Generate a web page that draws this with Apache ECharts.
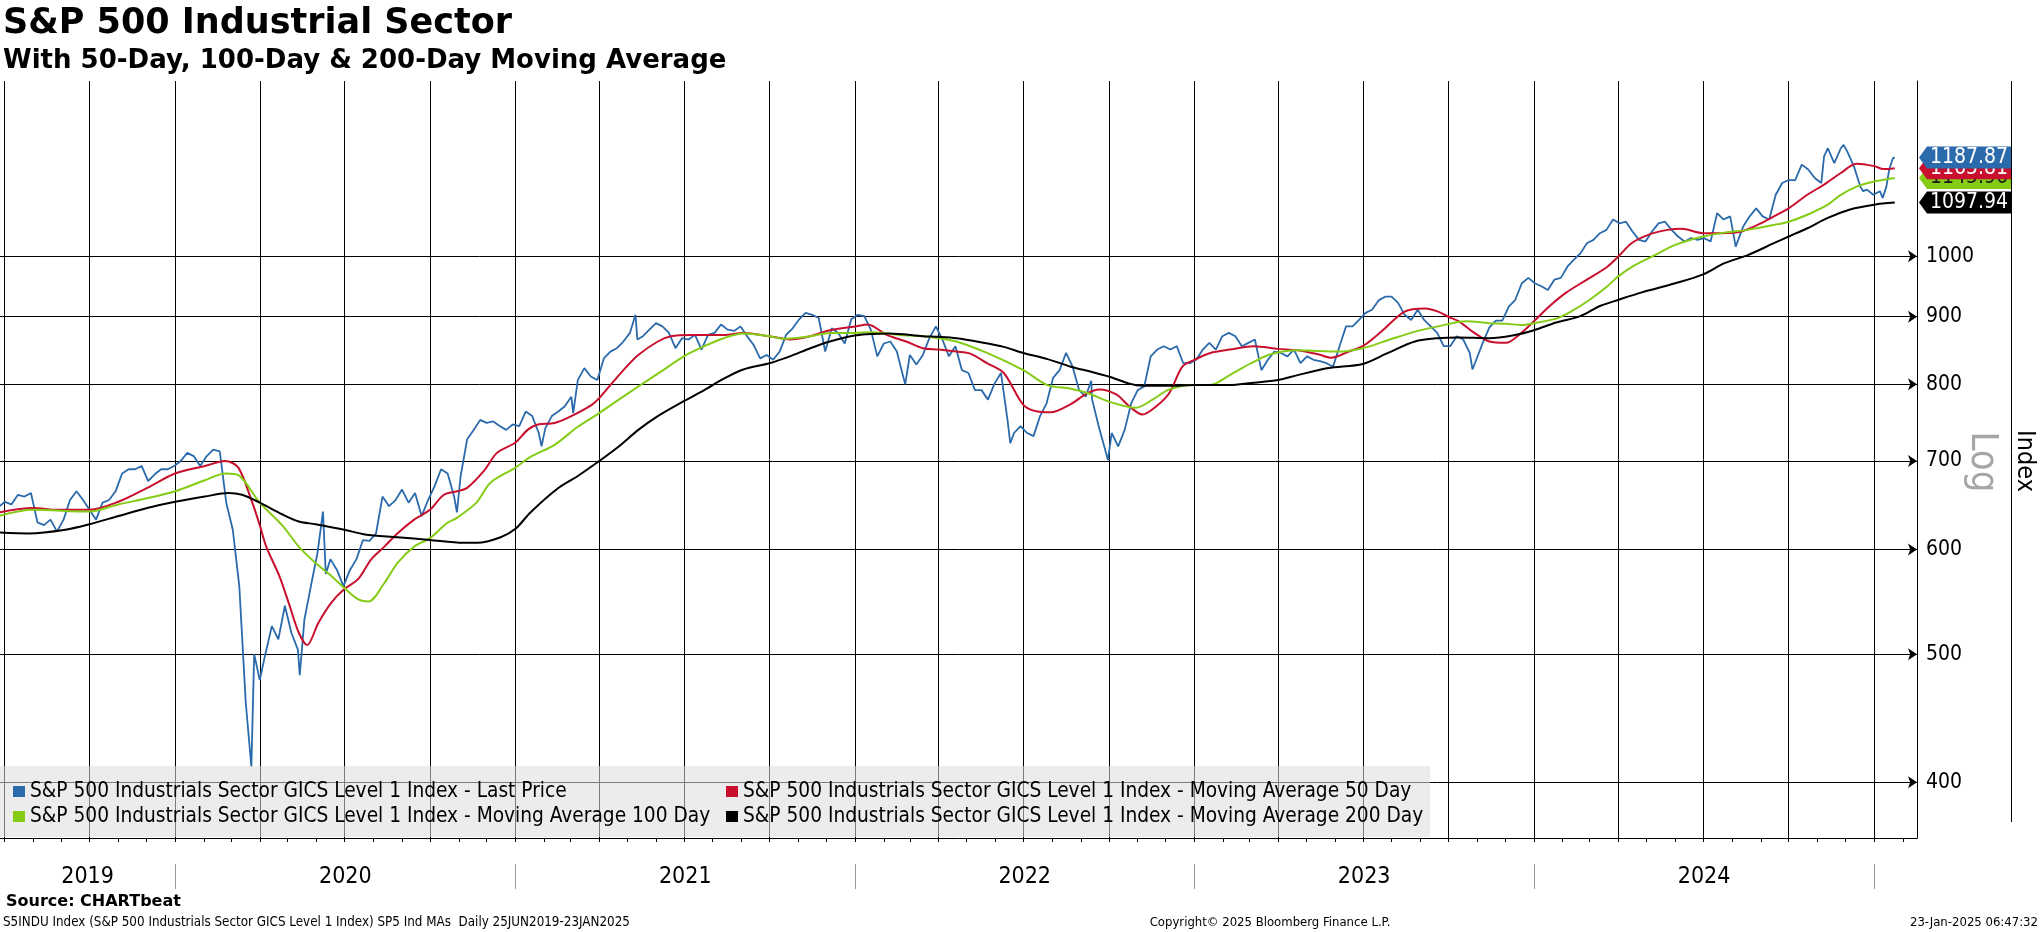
<!DOCTYPE html>
<html><head><meta charset="utf-8">
<script src="https://cdn.jsdelivr.net/npm/echarts@6/dist/echarts.min.js"></script>
<style>html,body{margin:0;padding:0;background:#fff}#c{width:2041px;height:932px}</style>
</head><body><div id="c"></div>
<script>
// ---------- DATA ----------
const priceDates = ['2019-06-25','2019-07-02','2019-07-09','2019-07-16','2019-07-23','2019-07-30','2019-08-06','2019-08-13','2019-08-20','2019-08-27','2019-09-03','2019-09-10','2019-09-17','2019-09-24','2019-10-01','2019-10-08','2019-10-15','2019-10-22','2019-10-29','2019-11-05','2019-11-12','2019-11-19','2019-11-26','2019-12-03','2019-12-10','2019-12-17','2019-12-24','2019-12-31',
'2020-01-07','2020-01-14','2020-01-21','2020-01-28','2020-02-04','2020-02-11','2020-02-18','2020-02-25','2020-03-03','2020-03-10','2020-03-17','2020-03-23','2020-03-26','2020-04-01','2020-04-07','2020-04-14','2020-04-21','2020-04-28','2020-05-05','2020-05-12','2020-05-14','2020-05-19','2020-05-26','2020-06-02','2020-06-08','2020-06-11','2020-06-16','2020-06-23','2020-06-30','2020-07-07','2020-07-14','2020-07-21','2020-07-28','2020-08-04','2020-08-11','2020-08-18','2020-08-25','2020-09-01','2020-09-08','2020-09-15','2020-09-22','2020-09-29','2020-10-06','2020-10-13','2020-10-20','2020-10-27','2020-10-30','2020-11-03','2020-11-10','2020-11-17','2020-11-24','2020-12-01','2020-12-08','2020-12-15','2020-12-22','2020-12-29',
'2021-01-05','2021-01-12','2021-01-19','2021-01-26','2021-01-29','2021-02-02','2021-02-09','2021-02-16','2021-02-23','2021-03-02','2021-03-04','2021-03-09','2021-03-16','2021-03-23','2021-03-30','2021-04-06','2021-04-13','2021-04-20','2021-04-27','2021-05-04','2021-05-10','2021-05-12','2021-05-18','2021-05-25','2021-06-01','2021-06-08','2021-06-15','2021-06-22','2021-06-29','2021-07-06','2021-07-13','2021-07-20','2021-07-27','2021-08-03','2021-08-10','2021-08-17','2021-08-24','2021-08-31','2021-09-07','2021-09-14','2021-09-21','2021-09-28','2021-10-05','2021-10-12','2021-10-19','2021-10-26','2021-11-02','2021-11-09','2021-11-16','2021-11-23','2021-11-30','2021-12-07','2021-12-14','2021-12-21','2021-12-28',
'2022-01-04','2022-01-11','2022-01-18','2022-01-25','2022-02-01','2022-02-08','2022-02-15','2022-02-24','2022-03-01','2022-03-08','2022-03-15','2022-03-22','2022-03-29','2022-04-05','2022-04-12','2022-04-19','2022-04-26','2022-05-03','2022-05-10','2022-05-17','2022-05-24','2022-05-31','2022-06-07','2022-06-14','2022-06-17','2022-06-21','2022-06-28','2022-07-05','2022-07-12','2022-07-19','2022-07-26','2022-08-02','2022-08-09','2022-08-16','2022-08-23','2022-08-30','2022-09-06','2022-09-12','2022-09-13','2022-09-20','2022-09-27','2022-09-30','2022-10-04','2022-10-11','2022-10-18','2022-10-25','2022-11-01','2022-11-08','2022-11-15','2022-11-22','2022-11-29','2022-12-06','2022-12-13','2022-12-20','2022-12-27',
'2023-01-03','2023-01-10','2023-01-17','2023-01-24','2023-01-31','2023-02-07','2023-02-14','2023-02-21','2023-02-28','2023-03-07','2023-03-14','2023-03-21','2023-03-28','2023-04-04','2023-04-11','2023-04-18','2023-04-25','2023-05-02','2023-05-09','2023-05-16','2023-05-23','2023-05-30','2023-06-06','2023-06-13','2023-06-20','2023-06-27','2023-07-04','2023-07-11','2023-07-18','2023-07-25','2023-08-01','2023-08-08','2023-08-15','2023-08-22','2023-08-29','2023-09-05','2023-09-12','2023-09-19','2023-09-26','2023-10-03','2023-10-10','2023-10-17','2023-10-24','2023-10-27','2023-10-31','2023-11-07','2023-11-14','2023-11-21','2023-11-28','2023-12-05','2023-12-12','2023-12-19','2023-12-26',
'2024-01-02','2024-01-09','2024-01-16','2024-01-23','2024-01-30','2024-02-06','2024-02-13','2024-02-20','2024-02-27','2024-03-05','2024-03-12','2024-03-19','2024-03-26','2024-04-02','2024-04-09','2024-04-16','2024-04-23','2024-04-30','2024-05-07','2024-05-14','2024-05-21','2024-05-28','2024-06-04','2024-06-11','2024-06-18','2024-06-25','2024-07-02','2024-07-09','2024-07-16','2024-07-23','2024-07-30','2024-08-05','2024-08-13','2024-08-20','2024-08-27','2024-09-03','2024-09-10','2024-09-17','2024-09-24','2024-10-01','2024-10-08','2024-10-15','2024-10-22','2024-10-29','2024-11-05','2024-11-08','2024-11-12','2024-11-19','2024-11-26','2024-11-29','2024-12-03','2024-12-10','2024-12-17','2024-12-20','2024-12-24','2024-12-31',
'2025-01-07','2025-01-10','2025-01-14','2025-01-17','2025-01-21','2025-01-23'];
const priceValues = [646,652,649,660,658,662,629,626,632,619,632,654,664,654,643,632,651,654,664,685,690,690,694,676,684,690,690,694,
700,710,706,694,706,714,712,651,621,563,459,411,500,478,500,525,513,544,519,504,482,531,563,596,641,575,590,579,563,579,590,610,609,617,658,647,654,666,651,662,636,654,670,690,685,658,640,682,727,739,752,748,750,744,739,746,
744,763,757,735,718,741,757,763,770,783,761,806,823,811,806,837,847,852,862,875,903,865,870,880,890,885,875,852,867,865,872,850,872,875,888,880,878,885,870,857,837,842,835,847,872,882,896,906,903,898,847,882,875,859,896,
903,901,880,840,859,862,847,800,842,828,842,867,885,865,840,855,820,816,792,792,779,801,816,752,722,735,744,735,731,757,774,809,820,845,825,792,783,805,779,744,714,701,735,718,739,774,792,797,840,850,855,850,855,830,830,
835,850,860,850,870,875,870,855,860,865,820,835,847,845,840,850,830,840,835,833,830,825,855,885,885,895,906,911,926,932,932,922,903,895,911,895,885,875,855,855,870,865,845,821,835,860,883,894,894,916,927,954,963,
954,949,943,960,963,982,994,1005,1023,1029,1041,1047,1066,1059,1062,1044,1029,1026,1044,1059,1062,1047,1035,1026,1032,1029,1032,1026,1078,1066,1072,1017,1053,1072,1087,1072,1066,1113,1136,1142,1142,1173,1163,1146,1136,1190,1207,1176,1207,1214,1200,1170,1129,1120,1123,1113,
1120,1107,1129,1163,1186,1187.87];

const ma50Dates = ['2019-06-25','2019-08-01','2019-08-29','2019-10-01','2019-11-01','2019-12-02','2020-01-01','2020-02-02','2020-02-24','2020-03-09','2020-03-24','2020-04-01','2020-04-08','2020-04-22','2020-05-02','2020-05-13','2020-05-22','2020-06-03','2020-06-17','2020-07-01','2020-07-16','2020-07-30','2020-08-13','2020-08-27','2020-09-14','2020-10-01','2020-10-16','2020-10-30','2020-11-10','2020-11-28','2020-12-12','2021-01-01','2021-01-14','2021-01-25','2021-02-12','2021-03-02','2021-03-24','2021-04-01','2021-04-15','2021-04-29','2021-05-13','2021-06-03','2021-06-17','2021-07-09','2021-08-13','2021-09-03','2021-10-01','2021-10-23','2021-11-14','2021-12-05','2022-01-01','2022-01-15','2022-02-04','2022-02-25','2022-03-15','2022-04-01','2022-04-20','2022-05-05','2022-05-23','2022-06-10','2022-07-01','2022-07-16','2022-07-30','2022-08-21','2022-09-08','2022-09-21','2022-10-09','2022-10-23','2022-11-06','2022-11-21','2022-12-05','2022-12-19','2023-01-01','2023-01-18','2023-02-08','2023-03-06','2023-04-01','2023-04-22','2023-05-14','2023-05-28','2023-06-16','2023-07-01','2023-07-21','2023-08-15','2023-09-06','2023-09-20','2023-10-01','2023-10-12','2023-10-27','2023-11-14','2023-12-02','2023-12-16','2024-01-01','2024-01-18','2024-02-05','2024-02-27','2024-03-20','2024-04-01','2024-04-15','2024-05-03','2024-05-24','2024-06-08','2024-07-01','2024-07-21','2024-08-11','2024-09-01','2024-09-15','2024-10-01','2024-10-21','2024-11-08','2024-11-26','2024-12-13','2025-01-01','2025-01-11','2025-01-23'];
const ma50Values = [640,645,643,643,652,668,685,694,700,692,651,626,603,573,547,519,508,528,547,560,570,590,603,617,632,643,660,664,668,688,710,723,739,746,748,757,772,781,802,823,842,862,870,872,872,875,870,865,870,879,885,888,872,862,852,850,847,844,830,816,772,763,762,773,788,793,786,770,759,770,788,825,835,845,850,855,851,849,843,838,847,855,877,908,913,908,900,893,877,862,860,872,893,917,939,960,982,1000,1023,1038,1047,1049,1041,1041,1044,1059,1072,1087,1113,1133,1156,1175,1170,1164,1165.81];

const ma100Dates = ['2019-06-25','2019-08-01','2019-10-01','2019-11-01','2019-12-02','2020-01-01','2020-02-02','2020-02-24','2020-03-09','2020-04-01','2020-04-25','2020-05-13','2020-05-31','2020-06-17','2020-07-01','2020-07-16','2020-07-27','2020-08-13','2020-08-27','2020-09-14','2020-10-01','2020-10-19','2020-10-30','2020-11-20','2020-12-05','2021-01-01','2021-01-17','2021-02-12','2021-03-09','2021-04-01','2021-04-22','2021-05-13','2021-06-03','2021-07-01','2021-07-23','2021-08-13','2021-09-03','2021-10-01','2021-10-16','2021-11-14','2021-12-05','2022-01-01','2022-01-20','2022-02-18','2022-03-15','2022-04-01','2022-04-20','2022-05-23','2022-07-01','2022-07-27','2022-08-21','2022-09-08','2022-10-02','2022-10-30','2022-11-17','2022-12-05','2023-01-01','2023-01-18','2023-02-08','2023-03-03','2023-03-24','2023-04-22','2023-06-05','2023-07-01','2023-07-28','2023-08-26','2023-09-20','2023-10-20','2023-11-14','2023-12-02','2023-12-20','2024-01-01','2024-01-25','2024-02-12','2024-03-01','2024-03-20','2024-04-01','2024-04-19','2024-05-10','2024-06-01','2024-07-01','2024-07-24','2024-08-18','2024-09-15','2024-10-01','2024-10-21','2024-11-12','2024-11-26','2024-12-13','2025-01-01','2025-01-23'];
const ma100Values = [636,643,641,649,656,664,677,685,683,651,626,603,586,573,561,550,548,566,586,603,612,628,634,651,674,692,705,720,743,761,779,797,815,840,855,867,874,870,866,870,875,875,876,872,870,867,862,845,820,799,794,788,776,768,779,793,799,799,813,830,843,849,847,852,864,877,885,893,890,889,887,890,897,910,927,949,966,985,1002,1020,1035,1042,1047,1056,1062,1075,1094,1113,1129,1139,1145.96];

const ma200Dates = ['2019-06-25','2019-07-28','2019-09-05','2019-10-01','2019-11-01','2019-12-02','2020-01-01','2020-02-02','2020-02-27','2020-03-13','2020-04-01','2020-04-25','2020-05-13','2020-05-31','2020-07-01','2020-07-23','2020-08-27','2020-10-01','2020-11-06','2020-11-21','2020-12-16','2021-01-01','2021-01-17','2021-02-15','2021-03-09','2021-04-01','2021-04-22','2021-05-13','2021-06-03','2021-07-01','2021-07-23','2021-08-13','2021-09-03','2021-10-01','2021-10-23','2021-11-14','2021-12-05','2022-01-01','2022-02-07','2022-03-15','2022-04-01','2022-04-20','2022-05-16','2022-06-10','2022-07-01','2022-07-27','2022-08-21','2022-09-11','2022-10-01','2022-10-23','2022-11-06','2022-12-05','2023-01-01','2023-02-08','2023-03-03','2023-04-01','2023-04-22','2023-05-25','2023-07-01','2023-07-28','2023-08-26','2023-09-20','2023-10-12','2023-11-14','2023-12-09','2024-01-01','2024-01-25','2024-02-20','2024-03-12','2024-04-01','2024-04-26','2024-06-01','2024-07-01','2024-07-24','2024-08-18','2024-09-15','2024-10-01','2024-10-21','2024-11-12','2024-12-06','2025-01-01','2025-01-23'];
const ma200Values = [618,617,621,627,636,645,652,658,662,660,651,638,630,627,621,616,613,610,607,607,613,622,640,667,682,700,718,739,757,777,792,808,821,830,840,852,862,871,874,870,869,867,861,854,845,836,825,818,811,801,798,798,799,799,802,806,813,823,829,845,862,867,868,867,871,879,891,901,917,927,939,954,969,988,1002,1023,1035,1050,1069,1085,1094,1097.94];

const yTickValues = [400, 500, 600, 700, 800, 900, 1000];
const yearLabels = ['2019', '2020', '2021', '2022', '2023', '2024'];
const seriesNames = [
  'S&P 500 Industrials Sector GICS Level 1 Index - Last Price',
  'S&P 500 Industrials Sector GICS Level 1 Index - Moving Average 50 Day',
  'S&P 500 Industrials Sector GICS Level 1 Index - Moving Average 100 Day',
  'S&P 500 Industrials Sector GICS Level 1 Index - Moving Average 200 Day'
];

// ---------- CHART ----------
const FONT = "'DejaVu Sans Condensed', 'DejaVu Sans', sans-serif";
const BOLD = "'DejaVu Sans', sans-serif";
const C_BLUE = '#2b6aab', C_RED = '#c8102e', C_GREEN = '#84cc16', C_BLACK = '#000000';

const ts = s => { const p = s.split('-').map(Number); return new Date(p[0], p[1] - 1, p[2]).getTime(); };
const xMin = new Date(2019, 5, 26, 17).getTime();
const xMax = new Date(2025, 1, 15, 22).getTime();

const monthTicks = [], quarterTicks = [], yearTicks = [];
for (let y = 2019; y <= 2025; y++) {
  for (let m = 0; m < 12; m++) {
    const t = new Date(y, m, 1).getTime();
    if (t < xMin || t > xMax) continue;
    monthTicks.push(t);
    if (m % 3 === 0) quarterTicks.push(t);
    if (m === 0) yearTicks.push(t);
  }
}
const yearMids = yearLabels.map(s => {
  const y = +s;
  const a = Math.max(xMin, new Date(y, 0, 1).getTime());
  const b = Math.min(xMax, new Date(y + 1, 0, 1).getTime());
  return (a + b) / 2;
});

const pairs = (d, v) => d.map((x, i) => [ts(x), v[i]]);
const BADGE = 'path://M0,11L8,0L92,0L92,22L8,22Z';
function badge(color, textColor, value, z) {
  return {
    z: z, silent: true, animation: false,
    symbol: BADGE, symbolSize: [92, 22], symbolOffset: [48, 0], symbolKeepAspect: false,
    itemStyle: { color: color },
    label: { show: true, position: 'inside', offset: [4, 0], color: textColor, fontSize: 21, fontFamily: FONT,
      formatter: p => Number(p.value).toFixed(2) },
    data: [{ coord: [xMax, value], value: value }]
  };
}
function lineSeries(name, dates, vals, color, width, smooth) {
  return {
    name: name, type: 'line', data: pairs(dates, vals), showSymbol: false, symbol: 'none',
    smooth: smooth, color: color, lineStyle: { color: color, width: width }, z: 2,
    emphasis: { disabled: true }, animation: false
  };
}

const sPrice = lineSeries(seriesNames[0], priceDates, priceValues, C_BLUE, 1.8, false);
sPrice.markLine = {
  silent: true, z: 1, animation: false, symbol: ['none', 'arrow'], symbolSize: 9,
  lineStyle: { color: '#000', width: 1, type: 'solid' },
  label: { show: true, position: 'end', distance: 9, color: '#000', fontSize: 21, fontFamily: FONT, formatter: '{c}' },
  data: yTickValues.map(v => ({ yAxis: v }))
};
sPrice.markPoint = badge(C_BLUE, '#fff', priceValues[priceValues.length - 1], 9);

const s50 = lineSeries(seriesNames[1], ma50Dates, ma50Values, C_RED, 2, 0.3);
s50.markPoint = badge(C_RED, '#fff', ma50Values[ma50Values.length - 1], 8);
const s100 = lineSeries(seriesNames[2], ma100Dates, ma100Values, C_GREEN, 2, 0.3);
s100.markPoint = badge(C_GREEN, '#1a1a1a', ma100Values[ma100Values.length - 1], 7);
const s200 = lineSeries(seriesNames[3], ma200Dates, ma200Values, C_BLACK, 2, 0.3);
s200.markPoint = badge(C_BLACK, '#fff', ma200Values[ma200Values.length - 1], 6);
s200.markLine = {
  silent: true, z: 1, animation: false, symbol: ['none', 'none'],
  lineStyle: { color: '#000', width: 1, type: 'solid' }, label: { show: false },
  data: quarterTicks.map(t => ({ xAxis: t }))
};

const legendCommon = {
  orient: 'vertical', icon: 'rect', itemWidth: 12, itemHeight: 11, itemGap: 4, padding: 0,
  top: 781, selectedMode: false, z: 4,
  itemStyle: { borderWidth: 0 },
  textStyle: { color: '#000', fontSize: 20.7, fontFamily: FONT, lineHeight: 21 }
};

const chart = echarts.init(document.getElementById('c'), null, { renderer: 'canvas' });
chart.setOption({
  animation: false,
  backgroundColor: '#fff',
  grid: { left: 0, right: 124, top: 81, bottom: 94, containLabel: false },
  xAxis: [
    { type: 'value', min: xMin, max: xMax, scale: true,
      axisLine: { show: true, lineStyle: { color: '#000', width: 1 } },
      axisTick: { show: true, customValues: monthTicks, length: 4, lineStyle: { color: '#000' } },
      axisLabel: { show: false }, splitLine: { show: false } },
    { type: 'value', min: xMin, max: xMax, scale: true, position: 'bottom', offset: 26,
      axisLine: { show: false },
      axisTick: { show: true, customValues: yearTicks, length: 25, lineStyle: { color: '#999', width: 1 } },
      axisLabel: { show: true, customValues: yearMids, margin: 2, color: '#000', fontSize: 23, fontFamily: FONT,
        formatter: v => String(new Date(v).getFullYear()) },
      splitLine: { show: false } }
  ],
  yAxis: {
    type: 'log', logBase: 10, min: 363, max: 1357, position: 'right',
    axisLine: { show: true, lineStyle: { color: '#000', width: 1 } },
    axisTick: { show: false }, axisLabel: { show: false }, splitLine: { show: false }
  },
  legend: [
    Object.assign({}, legendCommon, { left: 13, data: [seriesNames[0], seriesNames[2]] }),
    Object.assign({}, legendCommon, { left: 726, data: [seriesNames[1], seriesNames[3]] })
  ],
  series: [sPrice, s50, s100, s200],
  graphic: [
    { type: 'text', x: 3, y: 24, silent: true,
      style: { text: 'S&P 500 Industrial Sector', font: "bold 35px " + BOLD, fill: '#000', align: 'left', verticalAlign: 'middle' } },
    { type: 'text', x: 3, y: 61, silent: true,
      style: { text: 'With 50-Day, 100-Day & 200-Day Moving Average', font: "bold 26px " + BOLD, fill: '#000', align: 'left', verticalAlign: 'middle' } },
    { type: 'rect', z: 3, silent: true, shape: { x: 0, y: 766, width: 1430, height: 71 },
      style: { fill: 'rgba(222,222,222,0.56)' } },
    { type: 'line', silent: true, shape: { x1: 2011.5, y1: 81, x2: 2011.5, y2: 822 },
      style: { stroke: '#000', lineWidth: 1 } },
    { type: 'text', x: 1982, y: 462, rotation: -Math.PI / 2, silent: true,
      style: { text: 'Log', font: "38px " + FONT, fill: '#a6a6a6', align: 'center', verticalAlign: 'middle' } },
    { type: 'text', x: 2024, y: 461, rotation: -Math.PI / 2, silent: true,
      style: { text: 'Index', font: "25px " + FONT, fill: '#000', align: 'center', verticalAlign: 'middle' } },
    { type: 'text', x: 6, y: 902, silent: true,
      style: { text: 'Source: CHARTbeat', font: "bold 16px " + BOLD, fill: '#000', align: 'left', verticalAlign: 'middle' } },
    { type: 'text', x: 3, y: 923, silent: true,
      style: { text: 'S5INDU Index (S&P 500 Industrials Sector GICS Level 1 Index) SP5 Ind MAs  Daily 25JUN2019-23JAN2025', font: "13.3px " + FONT, fill: '#000', align: 'left', verticalAlign: 'middle' } },
    { type: 'text', x: 1270, y: 923, silent: true,
      style: { text: 'Copyright\u00A9 2025 Bloomberg Finance L.P.', font: "13px " + FONT, fill: '#000', align: 'center', verticalAlign: 'middle' } },
    { type: 'text', x: 2038, y: 923, silent: true,
      style: { text: '23-Jan-2025 06:47:32', font: "13px " + FONT, fill: '#000', align: 'right', verticalAlign: 'middle' } }
  ]
});
</script>
</body></html>
